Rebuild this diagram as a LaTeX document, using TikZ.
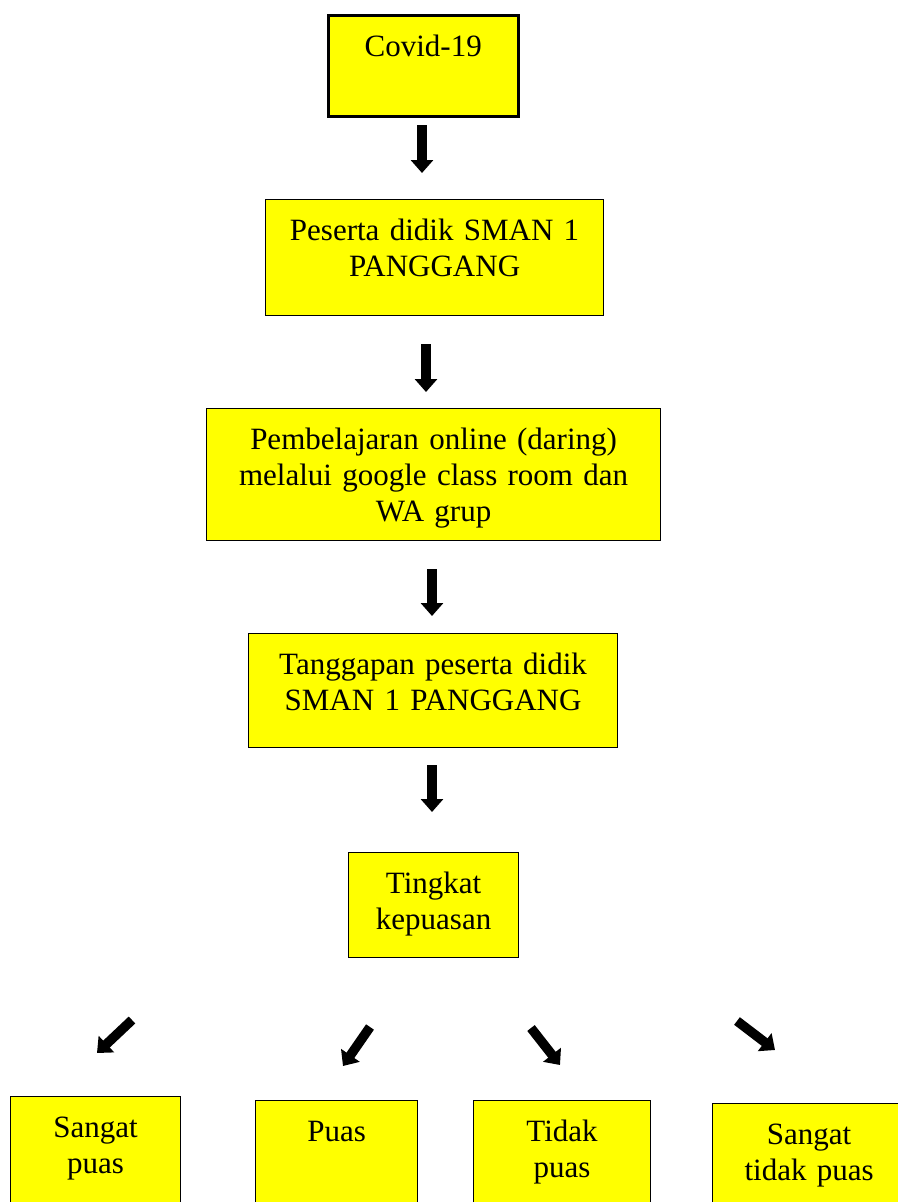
\documentclass[tikz,border=0pt]{standalone}
\usepackage{fontspec}
\setmainfont{Liberation Serif}
\usetikzlibrary{arrows.meta}

\definecolor{boxyellow}{RGB}{255,255,0}

\tikzset{
  box/.style={draw, fill=boxyellow, line width=1.2pt, inner sep=0pt, align=center,
    anchor=north west, text height=41pt, font=\fontsize{31}{36}\selectfont},
  down/.style={line width=9.5pt, -{Triangle[width=22pt,length=13pt]}}
}

\begin{document}
\begin{tikzpicture}[x=1pt, y=-1pt]
  \useasboundingbox (0,0) rectangle (897,1202);
  % the chain of boxes
  \node[box, line width=2.5pt, text width=190pt, text depth=60pt] (covid) at (327,14) {Covid-19};
  \node[box, text width=338pt, text depth=75pt] (peserta) at (265,199) {Peserta didik SMAN 1\\PANGGANG};
  \node[box, text width=454pt, text depth=91pt] (daring) at (206,408) {Pembelajaran online (daring)\\melalui google class room dan\\WA grup};
  \node[box, text width=369pt, text depth=73pt] (tanggapan) at (248,633) {Tanggapan peserta didik\\SMAN 1 PANGGANG};
  \node[box, text width=170pt, text depth=64pt] (tingkat) at (348,852) {Tingkat\\kepuasan};
  % the four answers
  \node[box, text width=170pt, text depth=78pt] (sp) at (10,1096) {Sangat\\puas};
  \node[box, text width=162pt, text depth=74pt] (p) at (255,1100) {Puas};
  \node[box, text width=177pt, text depth=74pt] (tp) at (473,1100) {Tidak\\puas};
  \node[box, text width=193pt, text depth=71pt] (stp) at (712,1103) {Sangat\\tidak puas};
  % free arrows between them
  \coordinate (a1) at (422,125);  \coordinate (b1) at (422,173);
  \coordinate (a2) at (426,344);  \coordinate (b2) at (426,392);
  \coordinate (a3) at (432,569);  \coordinate (b3) at (432,616);
  \coordinate (a4) at (432,765);  \coordinate (b4) at (432,812);
  \coordinate (a5) at (132,1020); \coordinate (b5) at (97,1053);
  \coordinate (a6) at (370,1027); \coordinate (b6) at (343,1066);
  \coordinate (a7) at (531,1028); \coordinate (b7) at (560,1065);
  \coordinate (a8) at (737,1021); \coordinate (b8) at (775,1050);
  \foreach \i in {1,...,8}
    \draw[down] (a\i) -- (b\i);
\end{tikzpicture}
\end{document}
